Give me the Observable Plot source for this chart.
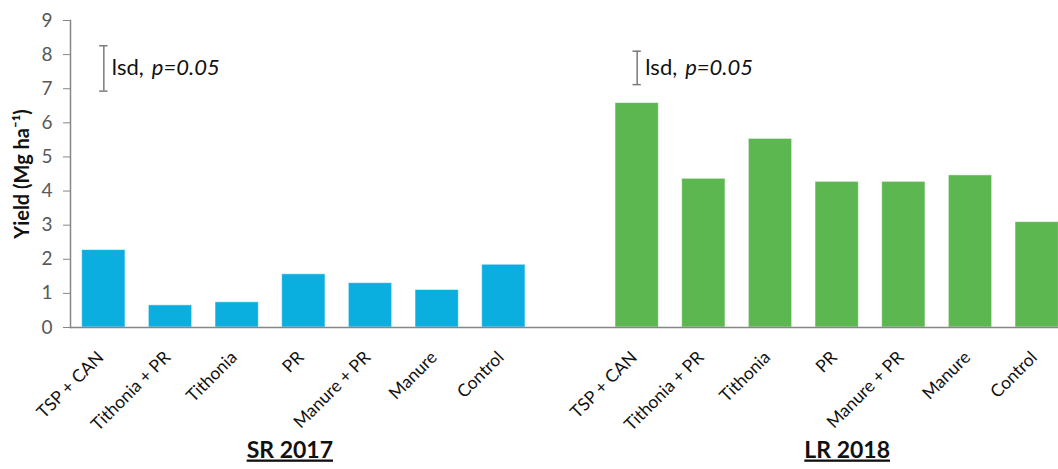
<!DOCTYPE html>
<html>
<head>
<meta charset="utf-8">
<script src="https://cdn.jsdelivr.net/npm/d3@7"></script>
<script src="https://cdn.jsdelivr.net/npm/@observablehq/plot@0.6"></script>
<style>
  html, body { margin: 0; padding: 0; background: #fff; overflow: hidden; }
  #chart svg { display: block; }
</style>
</head>
<body>
<div id="chart"></div>
<script>
const treatments = ["TSP + CAN", "Tithonia + PR", "Tithonia", "PR", "Manure + PR", "Manure", "Control"];
const seasons = ["SR 2017", "LR 2018"];
const sr2017 = [2.27, 0.65, 0.74, 1.56, 1.30, 1.10, 1.84];
const lr2018 = [6.58, 4.36, 5.53, 4.27, 4.27, 4.46, 3.09];
const lsdLow = [6.93, 7.12];
const lsdHigh = [8.26, 8.10];
const yTicks = [0, 1, 2, 3, 4, 5, 6, 7, 8, 9];
const colors = ["#0AAEDF", "#5CB750"];

const seriesValues = [sr2017, lr2018];
const rows = [];
seasons.forEach((s, si) => treatments.forEach((t, ti) => rows.push({season: s, treatment: t, key: s + "|" + t, value: seriesValues[si][ti], color: colors[si]})));
const gapKey = "gap";
const domain = [...treatments.map(t => seasons[0] + "|" + t), gapKey, ...treatments.map(t => seasons[1] + "|" + t)];
const lsd = seasons.map((s, i) => ({key: s + "|" + treatments[0], lo: lsdLow[i], hi: lsdHigh[i], mid: (lsdLow[i] + lsdHigh[i]) / 2}));
const groups = seasons.map((s, i) => ({key: s + "|PR", label: s}));

const axisGray = "#868686";
const chart = Plot.plot({
  width: 1058,
  height: 469,
  marginLeft: 70,
  marginRight: 0,
  marginTop: 20,
  marginBottom: 142,
  style: {fontFamily: "Lato, 'Open Sans', sans-serif", fontSize: "18px", background: "#fff", overflow: "hidden"},
  x: {domain, range: [70, 1070], paddingInner: 0.35, paddingOuter: 0.175, round: false, axis: null},
  y: {domain: [0, 9], axis: null},
  marks: [
    Plot.barY(rows, {x: "key", y: "value", fill: "color", stroke: "#ffffff", strokeOpacity: 0.55, strokeWidth: 1}),
    Plot.ruleY([0], {stroke: axisGray, strokeWidth: 1.5}),
    Plot.frame({anchor: "left", stroke: axisGray, strokeWidth: 1.5}),
    Plot.axisY({ticks: yTicks, tickSize: 7, tickPadding: 11, stroke: axisGray, fill: "#595959", fontSize: 19, label: null, tickFormat: d => d}),
    Plot.axisX({tickFormat: d => (d === gapKey ? "" : d.split("|")[1]), tickRotate: -45, tickSize: 0, tickPadding: 27, dx: -3, fontSize: 17.5, fill: "#111", label: null}),
    Plot.text(["Yield (Mg ha⁻¹)"], {frameAnchor: "left", textAnchor: "middle", rotate: -90, dx: -48, fontWeight: "bold", fontSize: 20, fill: "#111"}),
    Plot.ruleX(lsd, {x: "key", y1: "lo", y2: "hi", stroke: "#7a7a7a", strokeWidth: 1.5}),
    Plot.tickY(lsd, {x: "key", y: "lo", stroke: "#7a7a7a", strokeWidth: 1.5, insetLeft: 17.5, insetRight: 17.5}),
    Plot.tickY(lsd, {x: "key", y: "hi", stroke: "#7a7a7a", strokeWidth: 1.5, insetLeft: 17.5, insetRight: 17.5}),
    Plot.text(lsd, {x: "key", y: "mid", text: () => "lsd,", textAnchor: "start", dx: 8, fontSize: 22, fill: "#111"}),
    Plot.text(lsd, {x: "key", y: "mid", text: () => "p=0.05", textAnchor: "start", dx: 48, fontSize: 22, fontStyle: "italic", fill: "#111"}),
    Plot.text(groups.slice(0, 1), {x: "key", text: "label", frameAnchor: "bottom", dy: 130, dx: -14, fontSize: 23, fontWeight: "bold", fill: "#111"}),
    Plot.text(groups.slice(1), {x: "key", text: "label", frameAnchor: "bottom", dy: 130, dx: 10, fontSize: 23, fontWeight: "bold", fill: "#111"})
  ]
});
d3.select(chart).selectAll("text").filter(function() { return seasons.includes(this.textContent); }).style("text-decoration", "underline");
document.getElementById("chart").appendChild(chart);
</script>
</body>
</html>
